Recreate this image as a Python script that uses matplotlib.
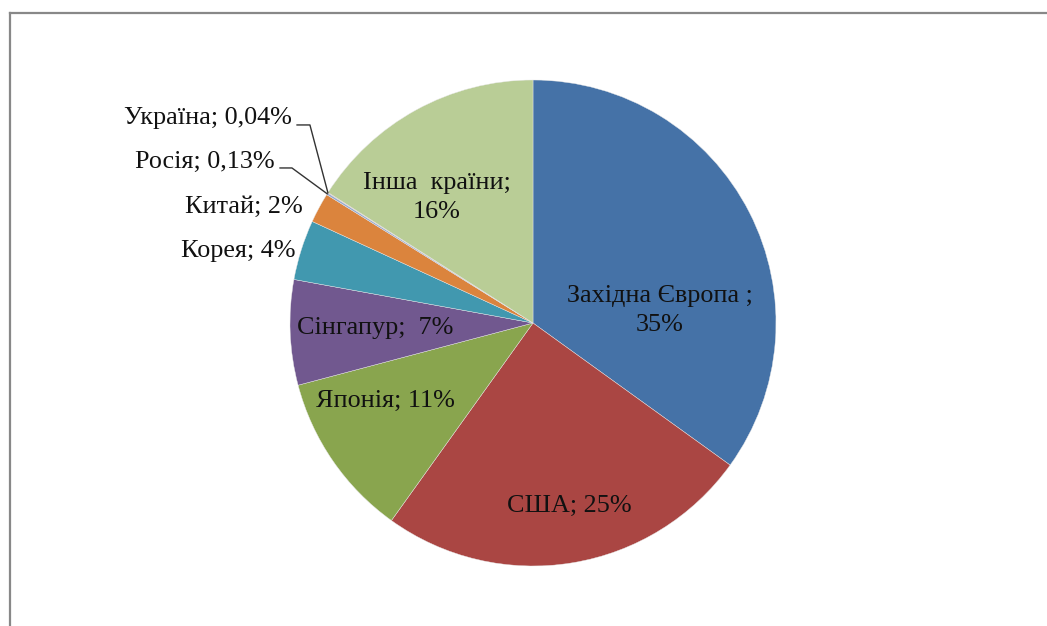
#!/usr/bin/env python3
# coding: utf-8

import matplotlib
matplotlib.use('Agg')
from matplotlib import pyplot as plt
from matplotlib.lines import Line2D
import numpy


COUNTRIES = ['Західна Європа', 'США', 'Японія', 'Сінгапур', 'Корея',
             'Китай', 'Росія', 'Україна', 'Інша країни']
SHARES = [35, 25, 11, 7, 4, 2, 0.13, 0.04, 16]
LABELS = ['Західна Європа ;\n35%', 'США; 25%', 'Японія; 11%', 'Сінгапур;  7%',
          'Корея; 4%', 'Китай; 2%', 'Росія; 0,13%', 'Україна; 0,04%',
          'Інша  країни;\n16%']
COLORS = ['#4572A7', '#AA4643', '#89A54E', '#71588F', '#4198AF',
          '#DB843D', '#93A9CF', '#D19392', '#B9CD96']

# label placement (in pie-radius units), Excel "best fit" look
LABEL_POS = {
    'Західна Європа': (0.523, 0.052, 'center'),
    'США': (0.148, -0.753, 'center'),
    'Японія': (-0.609, -0.321, 'center'),
    'Сінгапур': (-0.650, -0.019, 'center'),
    'Корея': (-0.979, 0.296, 'right'),
    'Китай': (-0.947, 0.477, 'right'),
    'Росія': (-1.062, 0.663, 'right'),
    'Україна': (-0.992, 0.844, 'right'),
    'Інша країни': (-0.395, 0.517, 'center'),
}
# leader lines: (y of horizontal part, x start, x elbow)
LEADERS = {
    'Росія': (0.638, -1.041, -0.992),
    'Україна': (0.815, -0.971, -0.918),
}

W, H, DPI = 1047, 626, 100
CX, CY, R = 533, 323, 243


def main():
    plt.rcParams['font.family'] = ['Liberation Serif', 'DejaVu Serif']
    fig = plt.figure(figsize=(W / DPI, H / DPI), dpi=DPI)
    ax = fig.add_axes([0, 0, 1, 1])

    wedges, _ = ax.pie(SHARES, colors=COLORS, startangle=90, counterclock=False,
                       radius=1, wedgeprops={'edgecolor': '#e8e8e8', 'linewidth': 0.3})

    for name, label in zip(COUNTRIES, LABELS):
        x, y, ha = LABEL_POS[name]
        ax.text(x, y, label, ha=ha, va='center', fontsize=18.8, color='#111111',
                linespacing=1.45, multialignment='center')

    for name, (ly, x0, x1) in LEADERS.items():
        w = wedges[COUNTRIES.index(name)]
        theta = numpy.radians((w.theta1 + w.theta2) / 2)
        ex, ey = numpy.cos(theta), numpy.sin(theta)
        ax.plot([x0, x1, ex], [ly, ly, ey], color='#333333', lw=1.0)

    ax.set_aspect('auto')
    ax.set_xlim(-CX / R, (W - CX) / R)
    ax.set_ylim((CY - H) / R, CY / R)
    ax.axis('off')

    # chart area border (clipped on right and bottom like the screenshot)
    fig.add_artist(Line2D([9.5 / W, 9.5 / W], [0, 1 - 12.5 / H], color='#888888', lw=1.6))
    fig.add_artist(Line2D([9.5 / W, 1], [1 - 12.5 / H, 1 - 12.5 / H], color='#888888', lw=1.6))

    fig.savefig('out.png', dpi=DPI, facecolor='white')


if __name__ == '__main__':
    main()
